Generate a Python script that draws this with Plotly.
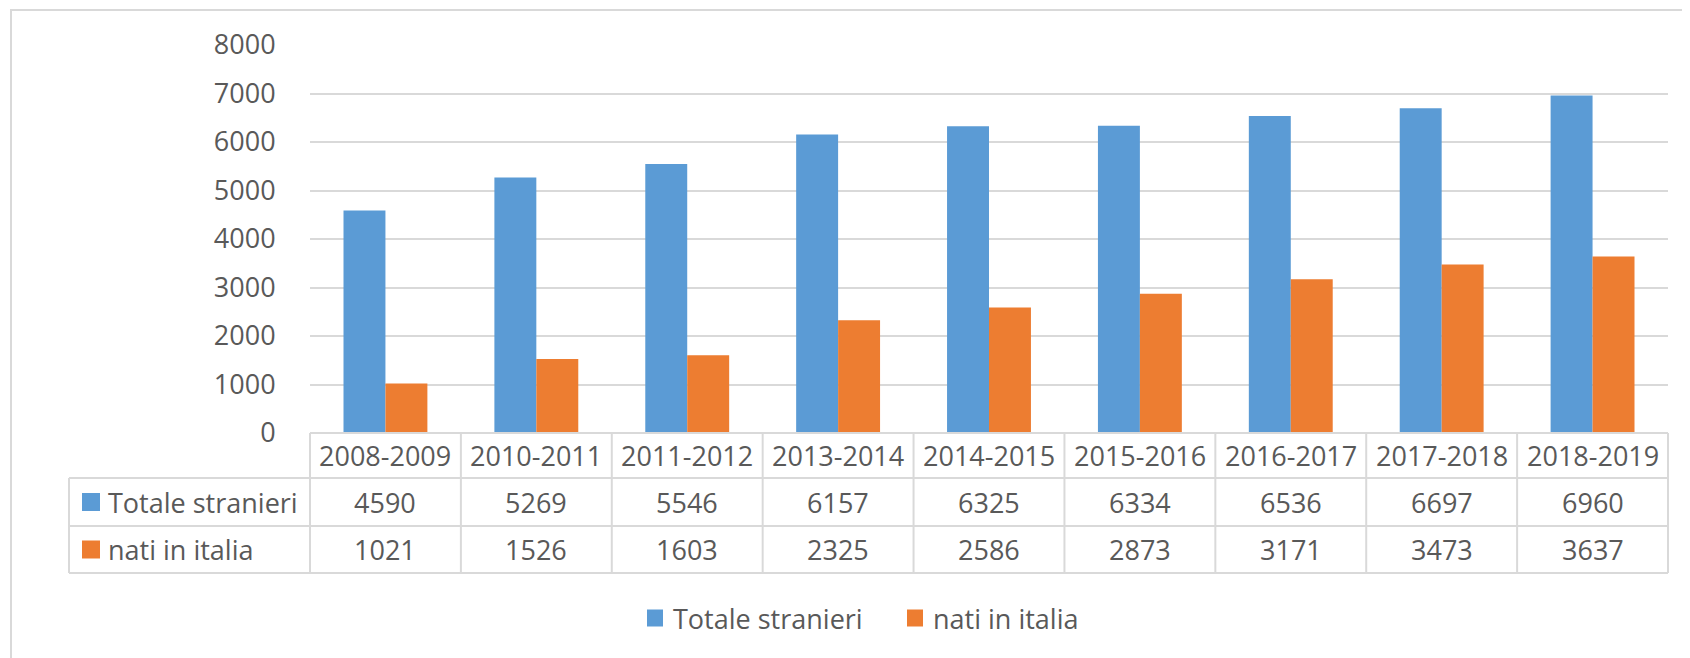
import plotly.graph_objects as go

categories = ["2008-2009", "2010-2011", "2011-2012", "2013-2014", "2014-2015",
              "2015-2016", "2016-2017", "2017-2018", "2018-2019"]
totale_stranieri = [4590, 5269, 5546, 6157, 6325, 6334, 6536, 6697, 6960]
nati_in_italia = [1021, 1526, 1603, 2325, 2586, 2873, 3171, 3473, 3637]
series_names = ["Totale stranieri", "nati in italia"]
colors = ["#5B9BD5", "#ED7D31"]
y_ticks = [0, 1000, 2000, 3000, 4000, 5000, 6000, 7000, 8000]

# page offset caused by the default body margin of the html page
OFF = 8
W, H = 1690, 658
# plot area in page pixels: x 310..1668, y 45..433
PX0, PX1, PY0, PY1 = 310, 1668, 45, 433
L, T = PX0 - OFF, PY0 - OFF
R, B = W - (PX1 - OFF), H - (PY1 - OFF)
pw, ph = PX1 - PX0, PY1 - PY0

def px_x(p):
    return (p - PX0) / pw

def px_y(p):
    return (PY1 - p) / ph

TXT = "#595959"
LINE = "#D9D9D9"
FONT = "Open Sans"

fig = go.Figure()
for name, vals, col in zip(series_names, [totale_stranieri, nati_in_italia], colors):
    fig.add_trace(go.Bar(x=categories, y=vals, name=name, showlegend=False,
                         marker=dict(color=col, line=dict(width=0))))

shapes = []
annotations = []
n = len(categories)
# outer frame
shapes.append(dict(type="rect", xref="paper", yref="paper", x0=px_x(11), x1=px_x(1720),
                   y0=px_y(720), y1=px_y(10), line=dict(color=LINE, width=2), fillcolor="rgba(0,0,0,0)",
                   layer="below"))
# table grid
row_top, row_h1, row_h2, row_bot = 433, 478, 526, 573
left_edge = 69
shapes.append(dict(type="line", xref="paper", yref="paper", x0=0, x1=1, y0=px_y(row_top), y1=px_y(row_top),
                   line=dict(color=LINE, width=2)))
for yy in [row_h1, row_h2, row_bot]:
    shapes.append(dict(type="line", xref="paper", yref="paper", x0=px_x(left_edge), x1=1,
                       y0=px_y(yy), y1=px_y(yy), line=dict(color=LINE, width=2)))
shapes.append(dict(type="line", xref="paper", yref="paper", x0=px_x(left_edge), x1=px_x(left_edge),
                   y0=px_y(row_h1), y1=px_y(row_bot), line=dict(color=LINE, width=2)))
for i in range(n + 1):
    shapes.append(dict(type="line", xref="paper", yref="paper", x0=i / n, x1=i / n,
                       y0=px_y(row_top), y1=px_y(row_bot), line=dict(color=LINE, width=2)))

hdr_c = px_y((row_top + row_h1) / 2)
r1_c = px_y((row_h1 + row_h2) / 2)
r2_c = px_y((row_h2 + row_bot) / 2)

for c in categories:
    annotations.append(dict(x=c, y=hdr_c, xref="x", yref="paper", text=c, showarrow=False,
                            xanchor="center", yanchor="middle", font=dict(size=27, color=TXT, family=FONT)))
for vals, yc in [(totale_stranieri, r1_c), (nati_in_italia, r2_c)]:
    for c, v in zip(categories, vals):
        annotations.append(dict(x=c, y=yc, xref="x", yref="paper", text=str(v), showarrow=False,
                                xanchor="center", yanchor="middle", font=dict(size=27, color=TXT, family=FONT)))

for name, col, ypx in [(series_names[0], colors[0], (row_h1 + row_h2) / 2),
                       (series_names[1], colors[1], (row_h2 + row_bot) / 2)]:
    shapes.append(dict(type="rect", xref="paper", yref="paper", x0=px_x(82), x1=px_x(100),
                       y0=px_y(ypx - 9), y1=px_y(ypx + 9), line=dict(width=0), fillcolor=col))
    annotations.append(dict(x=px_x(106), y=px_y(ypx), xref="paper", yref="paper", text=name, showarrow=False,
                            xanchor="left", yanchor="middle", font=dict(size=27, color=TXT, family=FONT)))

# bottom legend (drawn manually for larger swatches)
leg_y = 618
for name, col, mx in [(series_names[0], colors[0], 647), (series_names[1], colors[1], 907)]:
    shapes.append(dict(type="rect", xref="paper", yref="paper", x0=px_x(mx), x1=px_x(mx + 16),
                       y0=px_y(leg_y + 8.5), y1=px_y(leg_y - 8.5), line=dict(width=0), fillcolor=col))
    annotations.append(dict(x=px_x(mx + 24), y=px_y(leg_y), xref="paper", yref="paper", text=name,
                            showarrow=False, xanchor="left", yanchor="middle",
                            font=dict(size=27, color=TXT, family=FONT)))

fig.update_layout(
    width=W, height=H,
    margin=dict(l=L, r=R, t=T, b=B, pad=0),
    paper_bgcolor="white", plot_bgcolor="white",
    barmode="group", bargap=0.444, bargroupgap=0,
    showlegend=False,
    font=dict(family=FONT, color=TXT, size=27),
    xaxis=dict(showticklabels=False, showgrid=False, showline=False, zeroline=False, ticks=""),
    yaxis=dict(range=[0, 8000], tickvals=y_ticks, showgrid=True, gridcolor=LINE, gridwidth=1.5,
               zeroline=False, showline=False, ticks="outside", ticklen=28, tickcolor="rgba(0,0,0,0)",
               tickfont=dict(size=27, color=TXT, family=FONT)),
    shapes=shapes, annotations=annotations,
)

fig.write_html("out.html")
